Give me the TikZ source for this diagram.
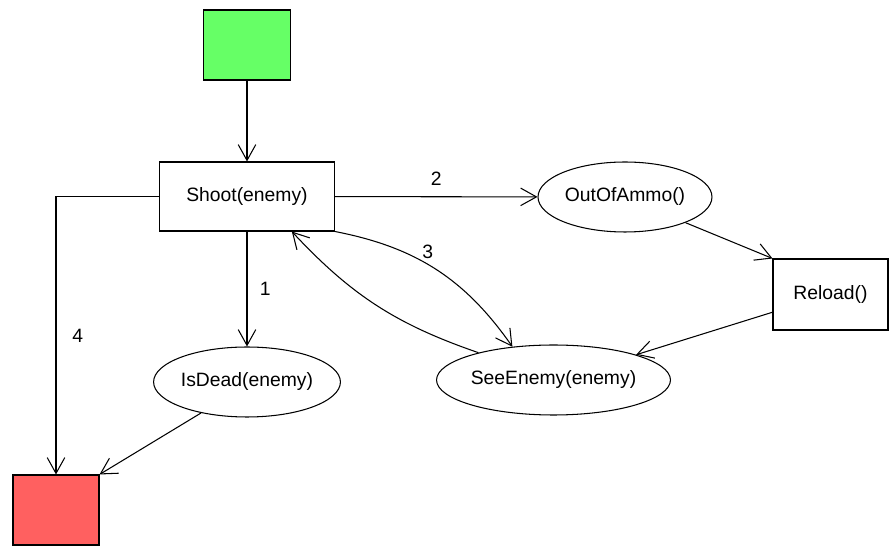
\documentclass[tikz,border=0pt]{standalone}
\usepackage{fontspec}
\setmainfont{Liberation Sans}
\usetikzlibrary{shapes.geometric,arrows.meta}
\definecolor{startgreen}{HTML}{66FF66}
\definecolor{stopred}{HTML}{FF6060}
\tikzset{
  action/.style={draw,rectangle,inner sep=0pt,line width=0.6pt},
  condition/.style={draw,ellipse,inner sep=0pt,line width=0.6pt},
  flow/.style={-{Straight Barb[length=9pt,width=10pt]},line width=0.6pt},
  num/.style={inner sep=1pt}
}
\begin{document}
\begin{tikzpicture}[x=0.02cm,y=-0.02cm,font=\fontsize{11}{13}\selectfont]
\useasboundingbox (0,0) rectangle (889,546);
% one unit is one pixel of the original, y runs downwards
\node[action,fill=startgreen,minimum width=1.74cm,minimum height=1.4cm] (start) at (247,45) {};
\node[action,minimum width=3.5cm,minimum height=1.38cm] (shoot) at (247,196.5) {Shoot(enemy)};
\node[condition,minimum width=3.48cm,minimum height=1.4cm] (ammo) at (625,197) {OutOfAmmo()};
\node[action,minimum width=2.3cm,minimum height=1.42cm] (reload) at (830.5,294.5) {Reload()};
\node[condition,minimum width=4.34cm,minimum height=1.4cm] (see) at (553.5,380) {SeeEnemy(enemy)};
\node[condition,minimum width=3.66cm,minimum height=1.4cm] (isdead) at (247,382) {IsDead(enemy)};
\node[action,fill=stopred,minimum width=1.72cm,minimum height=1.4cm] (stop) at (56,510) {};

\draw[flow] (start) -- (shoot);
\draw[flow] (shoot) -- node[num,right=6pt] {1} (isdead);
\draw[flow] (shoot) -- node[num,above=5pt] {2} (ammo);
\draw[flow] (shoot.south east) to[bend left=22] node[num,above=2pt,pos=0.45] {3} (see.141);
\draw[flow] (see.160) to[bend left=14] (shoot.-38);
\draw[flow] (shoot.west) -| node[num,pos=0.75,right=8pt] {4} (stop.north);
\draw[flow] (ammo.-23) -- (reload.north west);
\draw[flow] (reload.197) -- (see.17);
\draw[flow] (isdead.214) -- (stop.north east);
\end{tikzpicture}
\end{document}
